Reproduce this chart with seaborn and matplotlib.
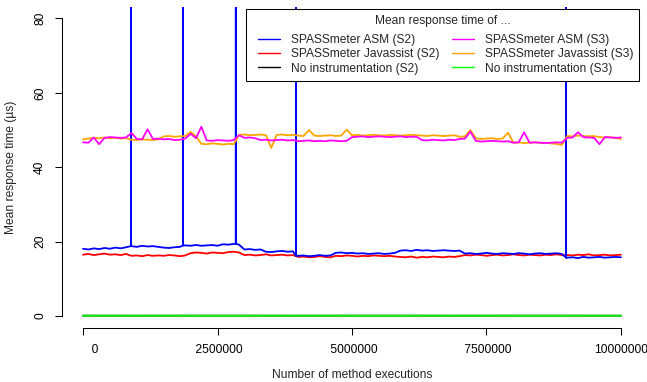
import numpy as np
import pandas as pd
import seaborn as sns
import matplotlib
matplotlib.use("Agg")
import matplotlib.pyplot as plt
from matplotlib.lines import Line2D
from matplotlib.legend_handler import HandlerLine2D

# ---------------- data ----------------
x_step = 100000
executions = np.arange(101) * x_step

asm_s2 = [18.1, 17.9, 18.2, 18.0,
          18.3, 18.1, 18.4, 18.2, 18.5,
          18.8, 18.6, 18.9, 18.7, 18.8, 18.6,
          18.4, 18.3, 18.5, 18.6,
          19.0, 18.9, 19.1, 18.9, 19.0, 19.1, 18.9,
          19.3, 19.2, 19.4, 19.2,
          17.9, 18.0, 17.8, 17.9,
          17.3, 17.2, 17.4,
          17.5, 17.3, 17.4,
          16.2, 16.3, 16.1, 16.2, 16.4, 16.2, 16.3,
          17.0, 17.1, 16.9, 17.0, 16.8, 16.9, 16.7, 16.8, 16.9, 16.7, 16.8, 17.0,
          17.6, 17.7, 17.5, 17.8, 17.6, 17.7, 17.5, 17.6, 17.7, 17.6, 17.5, 17.6,
          16.8, 16.9, 16.7, 16.8, 17.0, 16.8, 16.7, 16.9, 16.8, 16.7, 16.9, 16.8, 16.6, 16.8, 16.9, 16.7, 16.8, 16.9, 16.7,
          15.7, 15.8, 15.6, 15.9, 15.7, 15.8, 15.9, 15.7, 15.8, 15.9, 15.8]

spike_x = [890000, 1860000, 2840000, 3960000, 8980000]
spike_peak = [312.0, 268.0, 295.0, 241.0, 356.0]

javassist_s2 = [16.5, 16.7, 16.4, 16.6, 16.8, 16.5, 16.6, 16.4, 16.7,
                16.2, 16.3, 16.1, 16.4, 16.2, 16.3, 16.2, 16.4, 16.3, 16.1, 16.3,
                16.9, 17.1, 17.0, 16.8, 17.1, 17.0, 16.9,
                17.2, 17.3, 17.1,
                16.4, 16.5, 16.3, 16.4, 16.6, 16.3, 16.4, 16.5, 16.3, 16.4,
                15.9, 16.0, 15.8, 15.9, 16.1, 15.9, 15.8,
                16.2, 16.1, 16.3, 16.2, 16.0, 16.2, 16.1, 16.3, 16.2, 16.1, 16.2, 16.0,
                15.9, 15.8, 16.0, 15.7, 15.9, 15.8, 16.0, 15.9, 15.8, 16.0, 15.9, 16.1,
                16.4, 16.3, 16.5, 16.4, 16.2, 16.4, 16.5, 16.3, 16.4, 16.6, 16.4, 16.3, 16.5, 16.4, 16.3, 16.5, 16.4, 16.6, 16.4,
                16.4, 16.3, 16.5, 16.4, 16.6, 16.3, 16.4, 16.5, 16.3, 16.4, 16.5]

asm_s3 = [46.7, 46.6,
          48.0, 46.2, 47.9, 48.1, 48.0, 47.9, 48.0,
          49.2,
          47.6, 47.5, 50.2, 47.6, 47.7, 47.5, 47.6,
          47.3, 47.4,
          47.7, 49.0, 47.8,
          50.9,
          47.2, 47.1, 47.3, 47.2, 47.1, 47.3,
          48.6, 47.9, 48.0, 47.8,
          47.3, 47.4, 47.2, 47.3, 47.4, 47.2, 47.3,
          47.0, 47.1, 47.2, 47.0, 47.1, 47.0, 47.2, 47.1, 47.0, 47.1,
          48.1, 48.2, 48.3, 48.1, 48.2, 48.3, 48.2, 48.1, 48.2, 48.3, 48.1, 48.2, 48.2,
          47.3, 47.2, 47.4, 47.3, 47.2, 47.4, 47.3,
          47.6, 47.7,
          49.6, 47.1, 46.9, 47.0, 47.1, 47.0, 46.9, 47.0,
          46.6, 46.7, 49.4, 46.6, 46.7, 46.6, 46.5, 46.6, 46.7, 46.6,
          47.9, 48.0, 49.4, 48.1, 48.0, 47.9, 46.2, 48.1, 48.0, 47.9, 48.0]

javassist_s3 = [47.5, 47.7, 47.9, 47.8, 48.0, 47.8, 47.9, 47.7, 47.8,
                47.4, 47.3, 47.5, 47.4, 47.3, 47.5,
                48.3, 48.4, 48.2, 48.3,
                48.4, 49.5, 48.3,
                46.3, 46.2, 46.4, 46.3, 46.1, 46.3, 46.2,
                48.7, 48.8, 48.6, 48.7, 48.8, 48.6, 45.2, 48.7, 48.8, 48.6, 48.7,
                48.5, 48.4, 50.0, 48.5, 48.4, 48.5, 48.6, 48.4, 48.5, 50.1,
                48.6, 48.7, 48.5, 48.6, 48.7, 48.6, 48.5, 48.7, 48.6, 48.5, 48.6, 48.7, 48.6,
                48.5, 48.4, 48.6, 48.5, 48.4, 48.5, 48.6,
                48.2, 48.3,
                50.0, 47.8, 47.6, 47.7, 47.8, 47.6, 47.7, 49.3,
                46.6, 46.7, 46.5, 46.6, 46.7, 46.5, 46.6, 46.4, 46.3,
                46.0,
                48.4, 48.3, 48.5, 48.4, 48.3, 48.4,
                48.1, 48.0, 48.1, 47.9, 47.6]

coarse_x = [0, 1000000, 2000000, 3000000, 4000000, 5000000,
            6000000, 7000000, 8000000, 9000000, 10000000]
none_s2 = [0.12, 0.11, 0.12, 0.12, 0.11, 0.12, 0.12, 0.11, 0.12, 0.12, 0.11]
none_s3 = [0.10, 0.11, 0.10, 0.10, 0.11, 0.10, 0.10, 0.11, 0.10, 0.10, 0.11]

x_ticks = [0, 2500000, 5000000, 7500000, 10000000]
x_tick_labels = ["       0", " 2500000", " 5000000", " 7500000", "10000000"]
y_ticks = [0, 20, 40, 60, 80]
y_tick_labels = ["0", "20", "40", "60", "80"]

labels = ["SPASSmeter ASM (S2)", "SPASSmeter Javassist (S2)", "No instrumentation (S2)",
          "SPASSmeter ASM (S3)", "SPASSmeter Javassist (S3)", "No instrumentation (S3)"]
colors = ["#0000FF", "#FF0000", "#000000", "#FF00FF", "#FFA500", "#00FF00"]

# ---------------- build frames ----------------
pts = [(x, 0, y) for x, y in zip(executions, asm_s2)]
for xs, pk in zip(spike_x, spike_peak):
    base = asm_s2[int(round(xs / x_step))]
    pts += [(xs, 1, base), (xs, 2, pk), (xs, 3, base)]
pts.sort()
df_asm_s2 = pd.DataFrame({"x": [p[0] for p in pts], "y": [p[2] for p in pts]})
df_jav_s2 = pd.DataFrame({"x": executions, "y": javassist_s2})
df_none_s2 = pd.DataFrame({"x": coarse_x, "y": none_s2})
df_asm_s3 = pd.DataFrame({"x": executions, "y": asm_s3})
df_jav_s3 = pd.DataFrame({"x": executions, "y": javassist_s3})
df_none_s3 = pd.DataFrame({"x": coarse_x, "y": none_s3})

# ---------------- plot ----------------
sns.set_style("white")
FONT = "Liberation Sans"
plt.rcParams["font.family"] = [FONT, "DejaVu Sans"]
FS = 8.64

fig = plt.figure(figsize=(6.47, 3.82), dpi=100)
ax = fig.add_axes([61.5 / 647, 1 - 328 / 382, 581 / 647, 321.5 / 382])

LW = 1.3
draw_order = [(df_jav_s2, colors[1]), (df_asm_s2, colors[0]), (df_none_s2, colors[2]),
              (df_jav_s3, colors[4]), (df_asm_s3, colors[3]), (df_none_s3, colors[5])]
for d, c in draw_order:
    sns.lineplot(data=d, x="x", y="y", color=c, linewidth=LW, estimator=None,
                 sort=False, legend=False, ax=ax)

ax.set_xlim(-400000, 10400000)
ax.set_ylim(-3.2, 83.2)

for s in ["top", "right"]:
    ax.spines[s].set_visible(False)
for s in ["left", "bottom"]:
    ax.spines[s].set_color("black")
    ax.spines[s].set_linewidth(0.75)
ax.spines["left"].set_bounds(0, 80)
ax.spines["bottom"].set_bounds(0, 10000000)

ax.set_xticks(x_ticks)
ax.set_xticklabels(x_tick_labels, fontsize=FS)
ax.set_yticks(y_ticks)
ax.set_yticklabels(y_tick_labels, fontsize=FS, rotation=90, va="center")
ax.tick_params(axis="both", direction="out", length=5, width=0.75, color="black",
               labelcolor="black", bottom=True, left=True)
ax.tick_params(axis="x", pad=6.5)
ax.tick_params(axis="y", pad=6)
ax.grid(False)

ax.set_xlabel("Number of method executions", fontsize=FS)
ax.set_ylabel("Mean response time (µs)", fontsize=FS)
ax.xaxis.set_label_coords(0.5, (328 - 369) / 321.5)
ax.yaxis.set_label_coords((17 - 61.5) / 581, 0.5)

handles = [Line2D([], [], color=c, linewidth=1.0) for c in colors]
leg = ax.legend(handles, labels, title="Mean response time of ...", ncol=2,
                loc="upper right", bbox_to_anchor=(0.994, 0.991), frameon=True,
                fancybox=False, edgecolor="black", framealpha=1, borderpad=0.5,
                handlelength=2.33, handletextpad=0.9, columnspacing=0.5,
                labelspacing=0.2, fontsize=FS, title_fontsize=FS, borderaxespad=0,
                handler_map={Line2D: HandlerLine2D(xpad=0.5)})
leg.get_frame().set_linewidth(0.75)
leg._legend_box.sep = 4.6

fig.savefig("out.png", dpi=100)
